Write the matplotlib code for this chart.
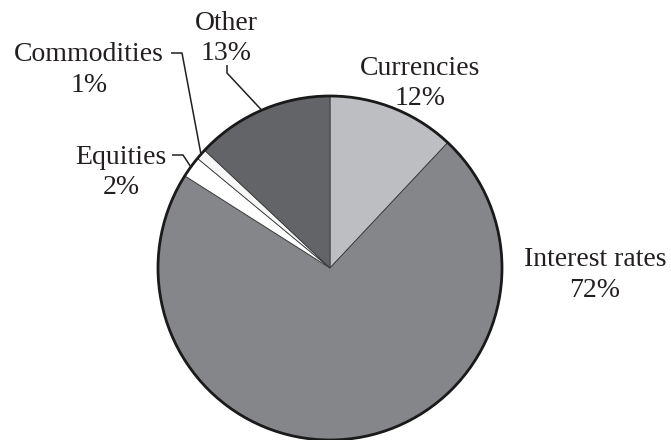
import numpy as np
import matplotlib
matplotlib.use("Agg")
import matplotlib.pyplot as plt
from matplotlib.patches import Circle

categories = ["Currencies", "Interest rates", "Equities", "Commodities", "Other"]
shares = [12, 72, 2, 1, 13]
colors = ["#bdbec1", "#858689", "#ffffff", "#f7f7f7", "#636467"]

plt.rcParams["font.family"] = ["Liberation Serif", "DejaVu Serif"]

W, H = 671, 440
fig = plt.figure(figsize=(W / 100, H / 100), dpi=100)
ax = fig.add_axes([0, 0, 1, 1])

cx, cy, r = 330, H - 268, 172
wedges, _ = ax.pie(shares, colors=colors, startangle=90, counterclock=False,
                   center=(cx, cy), radius=r, frame=True,
                   wedgeprops=dict(edgecolor="#3a3a3a", linewidth=0.6))
ax.add_patch(Circle((cx, cy), r, fill=False, edgecolor="#1a1a1a", linewidth=2.0, zorder=5))

ax.set_xlim(0, W)
ax.set_ylim(0, H)
ax.set_aspect("equal")
ax.axis("off")

def edge_point(i):
    w = wedges[i]
    ang = np.deg2rad((w.theta1 + w.theta2) / 2)
    return cx + r * np.cos(ang), cy + r * np.sin(ang)

fs = 20
txt = dict(fontsize=fs, color="#231f20", ha="center", va="center", linespacing=1.3)

# labels placed beside the pie (image-style coordinates, y measured from top)
def label(x, y_top, s):
    ax.text(x, H - y_top, s, **txt)

label(420, 83.5, f"{categories[0]}\n{shares[0]}%")
label(595, 275, f"{categories[1]}\n{shares[1]}%")
label(121, 172.5, f"{categories[2]}\n{shares[2]}%")
label(89, 70, f"{categories[3]}\n{shares[3]}%")
label(226, 38.5, f"{categories[4]}\n{shares[4]}%")

line = dict(color="#231f20", linewidth=1.1, solid_capstyle="butt", zorder=6)

# Equities leader
ex, ey = edge_point(2)
ax.plot([172, 183, ex], [H - 155, H - 155, ey], **line)
# Commodities leader
mx, my = edge_point(3)
ax.plot([171, 182, mx], [H - 53, H - 53, my], **line)
# Other leader
ox, oy = edge_point(4)
ax.plot([227, 227, ox], [H - 65, H - 73, oy], **line)

fig.savefig("out.png", dpi=100)
